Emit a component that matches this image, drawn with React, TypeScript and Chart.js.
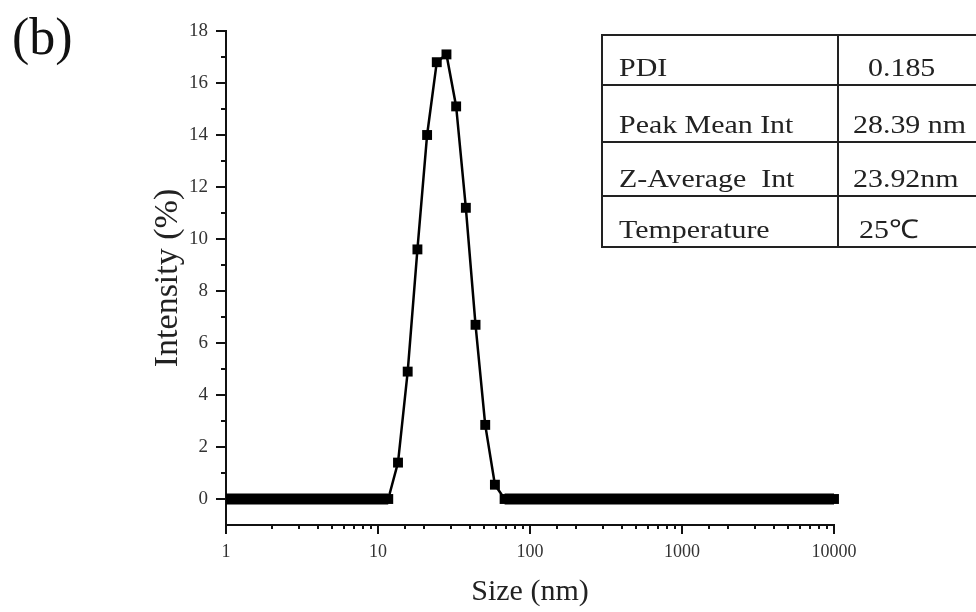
import React, { useEffect, useRef } from 'react';
import { Chart, registerables } from 'chart.js';

Chart.register(...registerables);

const FONT = '"Liberation Serif", "Times New Roman", serif';

// Size bins (nm)
const sizeNm = [
  0.9645, 1.117, 1.293, 1.498, 1.734, 2.008, 2.326, 2.693, 3.119, 3.611, 4.182, 4.843,
  5.608, 6.494, 7.52, 8.709, 10.08, 11.68, 13.54, 15.68, 18.17, 21.04, 24.36, 28.21,
  32.67, 37.84, 43.82, 50.75, 58.77, 68.06, 78.82, 91.28, 105.7, 122.4, 141.8, 164.2,
  190.1, 220.2, 255.0, 295.3, 342.0, 396.1, 458.7, 531.2, 615.1, 712.4, 825.0, 955.4,
  1106, 1281, 1484, 1718, 1990, 2305, 2669, 3091, 3580, 4145, 4801, 5560, 6439, 7456,
  8635, 10000,
];

// Intensity (%) per bin
const intensity = [
  0, 0, 0, 0, 0, 0, 0, 0, 0, 0, 0, 0,
  0, 0, 0, 0, 0, 0, 1.4, 4.9, 9.6, 14.0, 16.8, 17.1,
  15.1, 11.2, 6.7, 2.85, 0.55, 0, 0, 0, 0, 0, 0, 0,
  0, 0, 0, 0, 0, 0, 0, 0, 0, 0, 0, 0,
  0, 0, 0, 0, 0, 0, 0, 0, 0, 0, 0, 0, 0, 0,
  0, 0,
];

const yTickValues = [0, 1, 2, 3, 4, 5, 6, 7, 8, 9, 10, 11, 12, 13, 14, 15, 16, 17, 18];

const tableRows = [
  ['PDI', '0.185'],
  ['Peak Mean Int', '28.39 nm'],
  ['Z-Average  Int', '23.92nm'],
  ['Temperature', '25\u2103'],
];
const rowHeights = [50, 57, 54, 51];
const col2Indent = [29, 14, 14, 20];

const isDecade = (v: number) => {
  const l = Math.log10(v);
  return Math.abs(l - Math.round(l)) < 1e-9;
};

export default function App() {
  const ref = useRef<HTMLCanvasElement>(null);

  useEffect(() => {
    if (!ref.current) return;
    const tickPlugin = {
      id: 'axisTicks',
      afterDraw(chart: any) {
        const ctx = chart.ctx;
        const xs = chart.scales.x;
        const ys = chart.scales.y;
        const ca = chart.chartArea;
        ctx.save();
        ctx.strokeStyle = '#111';
        ctx.lineWidth = 2;
        for (const t of xs.ticks) {
          const px = Math.round(xs.getPixelForValue(t.value));
          const len = isDecade(t.value) ? 9 : 4;
          ctx.beginPath();
          ctx.moveTo(px, ca.bottom);
          ctx.lineTo(px, ca.bottom + len);
          ctx.stroke();
        }
        for (const t of ys.ticks) {
          const py = Math.round(ys.getPixelForValue(t.value));
          const len = t.value % 2 === 0 ? 10 : 5;
          ctx.beginPath();
          ctx.moveTo(ca.left, py);
          ctx.lineTo(ca.left - len, py);
          ctx.stroke();
        }
        ctx.restore();
      },
    };

    const chart = new Chart(ref.current, {
      type: 'line',
      data: {
        datasets: [
          {
            data: sizeNm.map((x, i) => ({ x, y: intensity[i] })),
            borderColor: '#000',
            backgroundColor: '#000',
            borderWidth: 2.5,
            pointStyle: 'rect',
            pointRadius: 7,
            pointBorderWidth: 0,
            pointBackgroundColor: '#000',
            tension: 0,
            segment: {
              borderWidth: (c: any) => (c.p0.parsed.y === 0 && c.p1.parsed.y === 0 ? 11 : 2.5),
            },
            clip: { left: 0, right: 10, top: 10, bottom: 10 },
          } as any,
        ],
      },
      options: {
        responsive: false,
        animation: false,
        events: [],
        layout: { padding: { left: 148, right: 142, top: 31, bottom: 0 } },
        plugins: {
          legend: { display: false },
          tooltip: { enabled: false },
        },
        scales: {
          x: {
            type: 'logarithmic',
            min: 1,
            max: 10000,
            grid: { display: false, drawTicks: false },
            border: { display: true, color: '#111', width: 2 },
            ticks: {
              autoSkip: false,
              maxRotation: 0,
              padding: 16,
              color: '#333',
              font: { family: FONT, size: 18 },
              callback: (v: any) => (isDecade(Number(v)) ? String(Number(v)) : ''),
            },
            title: {
              display: true,
              text: 'Size (nm)',
              color: '#222',
              font: { family: FONT, size: 30 },
              padding: { top: 0, bottom: 2 },
            },
            afterFit: (s: any) => {
              s.height = 87;
            },
          } as any,
          y: {
            type: 'linear',
            min: -1,
            max: 18,
            grid: { display: false, drawTicks: false },
            border: { display: true, color: '#111', width: 2 },
            afterBuildTicks: (s: any) => {
              s.ticks = yTickValues.map((v) => ({ value: v }));
            },
            ticks: {
              autoSkip: false,
              padding: 18,
              color: '#333',
              font: { family: FONT, size: 19 },
              callback: (v: any) => (Number(v) % 2 === 0 ? String(v) : ''),
            },
            title: {
              display: true,
              text: 'Intensity (%)',
              color: '#222',
              font: { family: FONT, size: 34 },
              padding: { top: 0, bottom: 0 },
            },
            afterFit: (s: any) => {
              s.width = 78;
            },
          } as any,
        },
      },
      plugins: [tickPlugin],
    });
    return () => chart.destroy();
  }, []);

  const cellText = (t: string) => (
    <span
      style={{
        display: 'inline-block',
        transform: 'scaleX(1.15)',
        transformOrigin: 'left bottom',
      }}
    >
      {t}
    </span>
  );

  return (
    <div
      style={{
        position: 'absolute',
        left: 0,
        top: 0,
        width: 976,
        height: 612,
        overflow: 'hidden',
        background: '#fff',
      }}
    >
      <canvas ref={ref} width={976} height={612} style={{ position: 'absolute', left: 0, top: 0 }} />
      <div
        style={{
          position: 'absolute',
          left: 12,
          top: 11,
          fontFamily: FONT,
          fontSize: 52,
          lineHeight: 1,
          color: '#111',
        }}
      >
        (b)
      </div>
      <table
        style={{
          position: 'absolute',
          left: 601,
          top: 34,
          width: 440,
          borderCollapse: 'collapse',
          fontFamily: FONT,
          fontSize: 26,
          color: '#222',
          tableLayout: 'fixed',
        }}
      >
        <colgroup>
          <col style={{ width: 236 }} />
          <col style={{ width: 204 }} />
        </colgroup>
        <tbody>
          {tableRows.map((r, i) => (
            <tr key={i} style={{ height: rowHeights[i] }}>
              <td
                style={{
                  border: '2px solid #222',
                  verticalAlign: 'bottom',
                  padding: '0 0 3px 16px',
                  lineHeight: 1,
                  whiteSpace: 'pre',
                }}
              >
                {cellText(r[0])}
              </td>
              <td
                style={{
                  border: '2px solid #222',
                  verticalAlign: 'bottom',
                  padding: `0 0 3px ${col2Indent[i]}px`,
                  lineHeight: 1,
                  whiteSpace: 'pre',
                }}
              >
                {cellText(r[1])}
              </td>
            </tr>
          ))}
        </tbody>
      </table>
    </div>
  );
}
